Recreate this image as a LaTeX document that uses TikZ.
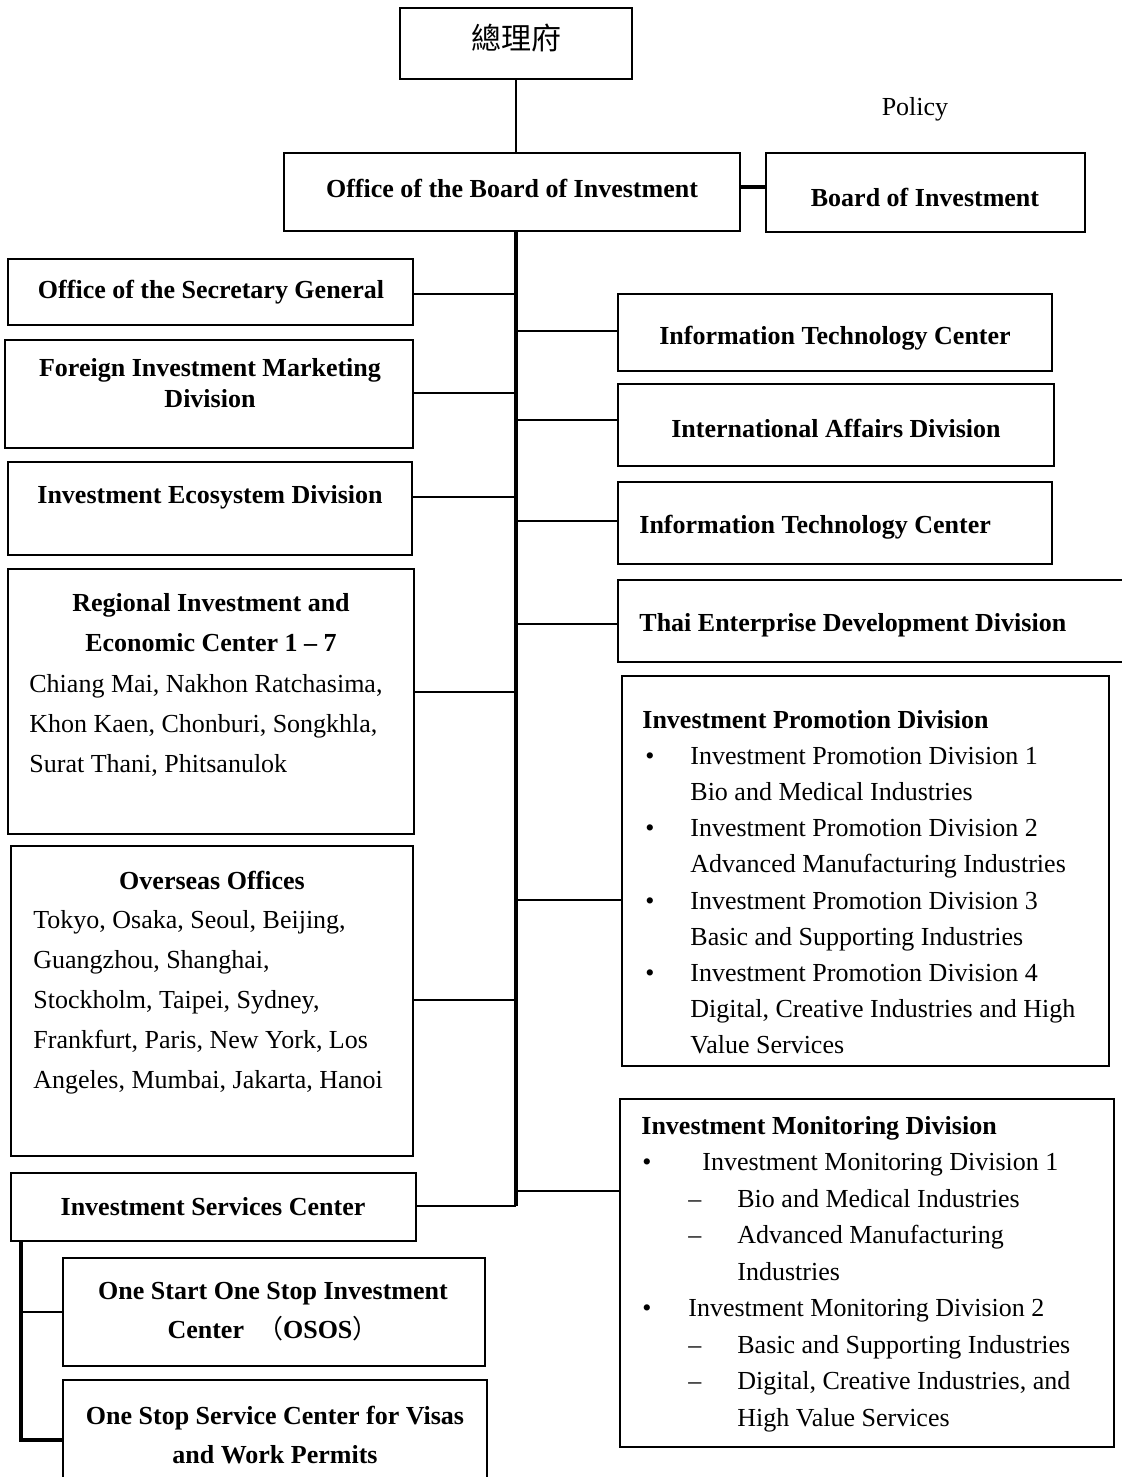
\documentclass[tikz,border=0pt]{standalone}
\usepackage{fontspec}
\setmainfont{Liberation Serif}
\newfontfamily\cjkfont{Noto Sans CJK TC}
\usetikzlibrary{positioning,fit}

% list helpers
\newcommand{\pbul}{\makebox[24pt][l]{\hspace{1.5pt}\textbullet}}
\newcommand{\pind}{\hspace*{24pt}}
\newcommand{\mbul}[1]{\makebox[#1][l]{\hspace{0.5pt}\textbullet}}
\newcommand{\mdash}{\hspace*{23.5pt}\makebox[24.5pt][l]{--}}
\newcommand{\mind}{\hspace*{48pt}}

\begin{document}
\begin{tikzpicture}[x=0.5pt, y=-0.5pt,
        box/.style={draw, line width=1pt, rectangle, inner sep=0pt},
        title/.style={inner sep=0pt, font=\fontsize{13}{19.5}\selectfont\bfseries, align=center},
        plain/.style={inner sep=0pt, font=\fontsize{13}{20}\selectfont, align=flush left, text width=200pt},
        blist/.style={inner sep=0pt, font=\fontsize{13}{18.1}\selectfont, align=flush left, text width=240pt},
        link/.style={line width=0.8pt},
        trunk/.style={line width=1.6pt}
    ]
    \useasboundingbox (0,0) rectangle (1121,1477);

    % top
    \node [box, fit={(400,8) (632,79)}] (pm) {};
    \node [inner sep=0pt, font=\cjkfont\fontsize{15}{18}\selectfont] (pmT) at (516,38) {總理府};
    \node [inner sep=0pt, font=\fontsize{13}{15}\selectfont] (policy) at (915,109) {Policy};
    \node [box, fit={(284,153) (740,231)}] (obi) {};
    \node [title] (obiT) at (512,188) {Office of the Board of Investment};
    \node [box, fit={(766,153) (1085,232)}] (boi) {};
    \node [title] (boiT) at (925,197) {Board of Investment};

    % left column
    \node [box, fit={(8,259) (413,325)}] (sec) {};
    \node [title] (secT) at (211,292) {Office of the Secretary General};
    \node [box, fit={(5,340) (413,448)}] (fim) {};
    \node [title, font=\fontsize{13}{15.5}\selectfont\bfseries] (fimT) at (210,383) {Foreign Investment Marketing\\Division};
    \node [box, fit={(8,462) (412,555)}] (eco) {};
    \node [title] (ecoT) at (210,497) {Investment Ecosystem Division};
    \node [box, fit={(8,569) (414,834)}] (reg) {};
    \node [title, font=\fontsize{13}{20}\selectfont\bfseries] (regT) at (211,623) {Regional Investment and\\Economic Center 1 -- 7};
    \node [plain, anchor=base west] (regL) at (29,692) {Chiang Mai, Nakhon Ratchasima,\\Khon Kaen, Chonburi, Songkhla,\\Surat Thani, Phitsanulok};
    \node [box, fit={(11,846) (413,1156)}] (ovs) {};
    \node [title] (ovsT) at (212,880) {Overseas Offices};
    \node [plain, anchor=base west] (ovsL) at (33,928) {Tokyo, Osaka, Seoul, Beijing,\\Guangzhou, Shanghai,\\Stockholm, Taipei, Sydney,\\Frankfurt, Paris, New York, Los\\Angeles, Mumbai, Jakarta, Hanoi};
    \node [box, fit={(11,1173) (416,1241)}] (isc) {};
    \node [title] (iscT) at (213,1207) {Investment Services Center};
    \node [box, fit={(63,1258) (485,1366)}] (osos) {};
    \node [title] (ososT) at (273,1312) {One Start One Stop Investment\\Center \ {\mdseries\cjkfont （}OSOS{\mdseries\cjkfont ）}};
    \node [box, fit={(63,1380) (487,1500)}] (visa) {};
    \node [title] (visaT) at (275,1435) {One Stop Service Center for Visas\\and Work Permits};

    % right column
    \node [box, fit={(618,294) (1052,371)}] (itc) {};
    \node [title] (itcT) at (835,338) {Information Technology Center};
    \node [box, fit={(618,384) (1054,466)}] (iad) {};
    \node [title] (iadT) at (836,428) {International Affairs Division};
    \node [box, fit={(618,482) (1052,564)}] (itd) {};
    \node [title, anchor=west] (itdT) at (639,527) {Information Technology Center};
    \node [box, fit={(618,580) (1135,662)}] (ted) {};
    \node [title, anchor=west] (tedT) at (639,625) {Thai Enterprise Development Division};
    \node [box, fit={(622,676) (1109,1066)}] (ipd) {};
    \node [blist, anchor=base west] (ipdL) at (642,728) {\textbf{Investment Promotion Division}\\
        \pbul Investment Promotion Division 1\\
        \pind Bio and Medical Industries\\
        \pbul Investment Promotion Division 2\\
        \pind Advanced Manufacturing Industries\\
        \pbul Investment Promotion Division 3\\
        \pind Basic and Supporting Industries\\
        \pbul Investment Promotion Division 4\\
        \pind Digital, Creative Industries and High\\
        \pind Value Services};
    \node [box, fit={(620,1099) (1114,1447)}] (imd) {};
    \node [blist, font=\fontsize{13}{18.25}\selectfont, anchor=base west] (imdL) at (641,1134) {\textbf{Investment Monitoring Division}\\
        \mbul{30.5pt}Investment Monitoring Division 1\\
        \mdash Bio and Medical Industries\\
        \mdash Advanced Manufacturing\\
        \mind Industries\\
        \mbul{23.5pt}Investment Monitoring Division 2\\
        \mdash Basic and Supporting Industries\\
        \mdash Digital, Creative Industries, and\\
        \mind High Value Services};

    % connectors
    \draw [link, line width=0.6pt] (pm.south) -- (pm.south |- obi.north);
    \draw [trunk] ([yshift=2.5pt]obi.east) -- ([yshift=2.5pt]obi.east -| boi.west);
    \coordinate (tTop) at (516,231);
    \coordinate (tEnd) at (516,1206);
    \draw [trunk] (tTop) -- (tEnd);
    \foreach \n/\y in {sec/294, fim/393, eco/497, reg/692, ovs/1000, isc/1206} {
        \coordinate (j) at (516,\y);
        \draw [link] (j) -- (j -| \n.east);
    }
    \foreach \n/\y in {itc/331, iad/420, itd/521, ted/624, ipd/900, imd/1191} {
        \coordinate (j) at (516,\y);
        \draw [link] (j) -- (j -| \n.west);
    }
    \coordinate (iscS) at ([xshift=5.5pt]isc.south west);
    \draw [trunk] (iscS) |- (visa.west);
    \draw [link, line width=1.2pt] (iscS |- osos.west) -- (osos.west);
\end{tikzpicture}
\end{document}
